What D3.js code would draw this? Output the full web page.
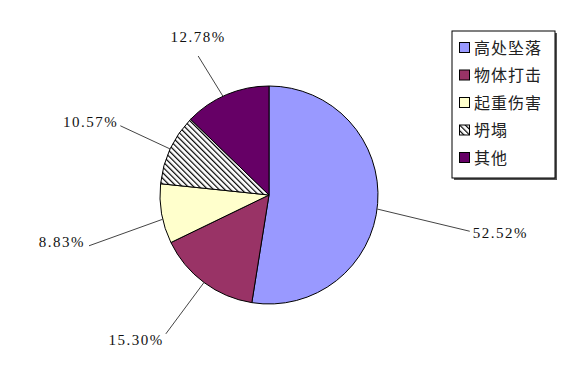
<!DOCTYPE html>
<html><head><meta charset="utf-8">
<script src="https://cdn.jsdelivr.net/npm/d3@7"></script>
<style>body{margin:0;background:#fff}svg{display:block}</style>
</head><body>
<script>
const categories = ["高处坠落","物体打击","起重伤害","坍塌","其他"];
const values = [52.52, 15.30, 8.83, 10.57, 12.78];
const labels = ["52.52%","15.30%","8.83%","10.57%","12.78%"];
const colors = ["#9999FF","#993366","#FFFFCC","hatch","#660066"];

const W=568,H=374, cx=269, cy=195, R=109;
// leader layout: angular offset (deg) from slice middle, end distance, text anchor + offsets
const leader = [
  {da:5.7, dist:204, anchor:"start", tx:3,  ty:1},
  {da:0,   dist:173, anchor:"end",   tx:-2, ty:6},
  {da:-5.8,dist:187, anchor:"end",   tx:-4, ty:-4},
  {da:0,   dist:164, anchor:"end",   tx:-2, ty:-4},
  {da:-4,  dist:156, anchor:"middle",tx:0,  ty:-19}
];

const svg=d3.select("body").append("svg").attr("width",W).attr("height",H);
const defs=svg.append("defs");
const pat=defs.append("pattern").attr("id","hatch").attr("patternUnits","userSpaceOnUse")
  .attr("width",4).attr("height",4).attr("patternTransform","rotate(-45)");
pat.append("rect").attr("width",4).attr("height",4).attr("fill","#fff");
pat.append("rect").attr("width",1.2).attr("height",4).attr("fill","#000");

const pie=d3.pie().sort(null).value(d=>d)(values);
const arc=d3.arc().innerRadius(0).outerRadius(R);
const g=svg.append("g").attr("transform",`translate(${cx},${cy})`);
g.selectAll("path").data(pie).join("path").attr("d",arc)
  .attr("fill",(d,i)=>colors[i]==="hatch"?"url(#hatch)":colors[i])
  .attr("stroke","#000").attr("stroke-width",1);

pie.forEach((d,i)=>{
  const L=leader[i];
  const mid=(d.startAngle+d.endAngle)/2;
  const a0=mid+L.da/2*Math.PI/180, a1=mid+L.da*Math.PI/180;
  const x0=R*Math.sin(a0), y0=-R*Math.cos(a0);
  const x1=L.dist*Math.sin(a1), y1=-L.dist*Math.cos(a1);
  g.append("line").attr("x1",x0).attr("y1",y0).attr("x2",x1).attr("y2",y1)
    .attr("stroke","#444").attr("stroke-width",1);
  g.append("text").attr("x",x1+L.tx).attr("y",y1+L.ty).attr("dy","0.35em").attr("text-anchor",L.anchor)
    .attr("font-family","'Liberation Serif','DejaVu Serif',serif").attr("font-size",15)
    .attr("letter-spacing","1.5px").attr("fill","#111").text(labels[i]);
});

// legend
const lx=452, ly=31, lw=103, lh=147;
svg.append("rect").attr("x",lx+2).attr("y",ly+2).attr("width",lw).attr("height",lh).attr("fill","#555");
svg.append("rect").attr("x",lx).attr("y",ly).attr("width",lw).attr("height",lh).attr("fill","#fff").attr("stroke","#000").attr("stroke-width",1);
const lg=svg.append("g");
categories.forEach((c,i)=>{
  const y=ly+17+i*27.5;
  lg.append("rect").attr("x",459.5).attr("y",y-5.5).attr("width",10).attr("height",10)
    .attr("fill",colors[i]==="hatch"?"url(#hatch)":colors[i]).attr("stroke","#000");
  lg.append("text").attr("x",474).attr("y",y).attr("dy","0.36em")
    .attr("font-family","'Noto Sans CJK SC',sans-serif").attr("font-size",16)
    .attr("letter-spacing","1px").attr("fill","#222").text(c);
});
</script>
</body></html>
